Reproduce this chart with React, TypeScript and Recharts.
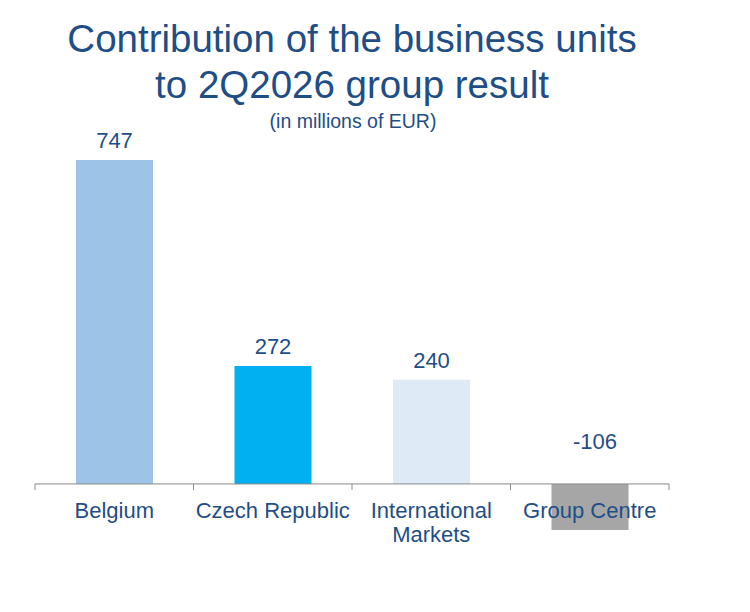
import React from 'react'
import { BarChart, Bar, Cell, XAxis, YAxis, ReferenceLine, LabelList } from 'recharts'

const categories = ['Belgium', 'Czech Republic', 'International Markets', 'Group Centre']
const results = [747, 272, 240, -106]
const barColors = ['#9DC3E6', '#00B0F0', '#DEEBF7', '#A6A6A6']
const tickLines: Record<string, string[]> = {
	Belgium: ['Belgium'],
	'Czech Republic': ['Czech Republic'],
	'International Markets': ['International', 'Markets'],
	'Group Centre': ['Group Centre'],
}

const data = categories.map((name, i) => ({ name, result: results[i] }))

const WIDTH = 750
const HEIGHT = 612
const MARGIN = { top: 137, right: 81, bottom: 33, left: 35 }
const X_AXIS_H = 30
const Y_MIN = -150
const Y_MAX = 800
const PLOT_H = HEIGHT - MARGIN.top - MARGIN.bottom - X_AXIS_H
const ZERO_Y = MARGIN.top + (PLOT_H * Y_MAX) / (Y_MAX - Y_MIN)

const TEXT = '#1F4E86'
const AXIS = '#898989'
const FONT = "'Liberation Sans', Arial, sans-serif"

const CategoryTick = (props: any) => {
	const { x, payload, index, visibleTicksCount } = props
	const half = payload.offset ?? 79
	const lines = tickLines[payload.value] ?? [payload.value]
	const isLast = index === (visibleTicksCount ?? categories.length) - 1
	return (
		<g>
			<line x1={x - half} x2={x - half} y1={ZERO_Y} y2={ZERO_Y + 6} stroke={AXIS} />
			{isLast && <line x1={x + half} x2={x + half} y1={ZERO_Y} y2={ZERO_Y + 6} stroke={AXIS} />}
			<text x={x} y={ZERO_Y + 34} textAnchor="middle" fill={TEXT} fontSize={22} fontFamily={FONT}>
				{lines.map((l, i) => (
					<tspan key={l} x={x} dy={i === 0 ? 0 : 24}>
						{l}
					</tspan>
				))}
			</text>
		</g>
	)
}

// negative values sit above the axis, a little right of the bar centre
const ValueLabel = (props: any) => {
	const { x, y, width, height, value } = props
	const neg = value < 0
	const base = neg ? y + height - 35 : y - 12
	return (
		<text x={x + width / 2 + (neg ? 5 : 0)} y={base} textAnchor="middle" fill={TEXT} fontSize={22} fontFamily={FONT}>
			{value}
		</text>
	)
}

export default function App() {
	return (
		<div style={{ position: 'absolute', left: 0, top: 0, width: WIDTH, height: HEIGHT, background: '#fff', fontFamily: FONT }}>
			<div
				style={{
					position: 'absolute',
					left: 0,
					width: 704,
					top: 16,
					textAlign: 'center',
					color: TEXT,
					fontSize: 38.5,
					lineHeight: '46px',
				}}
			>
				Contribution of the business units
				<br />
				to 2Q2026 group result
			</div>
			<div
				style={{
					position: 'absolute',
					left: 0,
					width: 706,
					top: 110,
					textAlign: 'center',
					color: TEXT,
					fontSize: 19.5,
					lineHeight: '22px',
				}}
			>
				(in millions of EUR)
			</div>
			<div style={{ position: 'absolute', left: 0, top: 0 }}>
				<BarChart width={WIDTH} height={HEIGHT} data={data} margin={MARGIN} barSize={77}>
					<YAxis hide domain={[Y_MIN, Y_MAX]} allowDataOverflow />
					<Bar dataKey="result" isAnimationActive={false}>
						{data.map((d, i) => (
							<Cell key={d.name} fill={barColors[i]} />
						))}
						<LabelList dataKey="result" content={ValueLabel} />
					</Bar>
					<ReferenceLine y={0} stroke={AXIS} strokeWidth={1} />
					<XAxis
						dataKey="name"
						height={X_AXIS_H}
						axisLine={false}
						tickLine={false}
						interval={0}
						tick={<CategoryTick />}
					/>
				</BarChart>
			</div>
		</div>
	)
}
